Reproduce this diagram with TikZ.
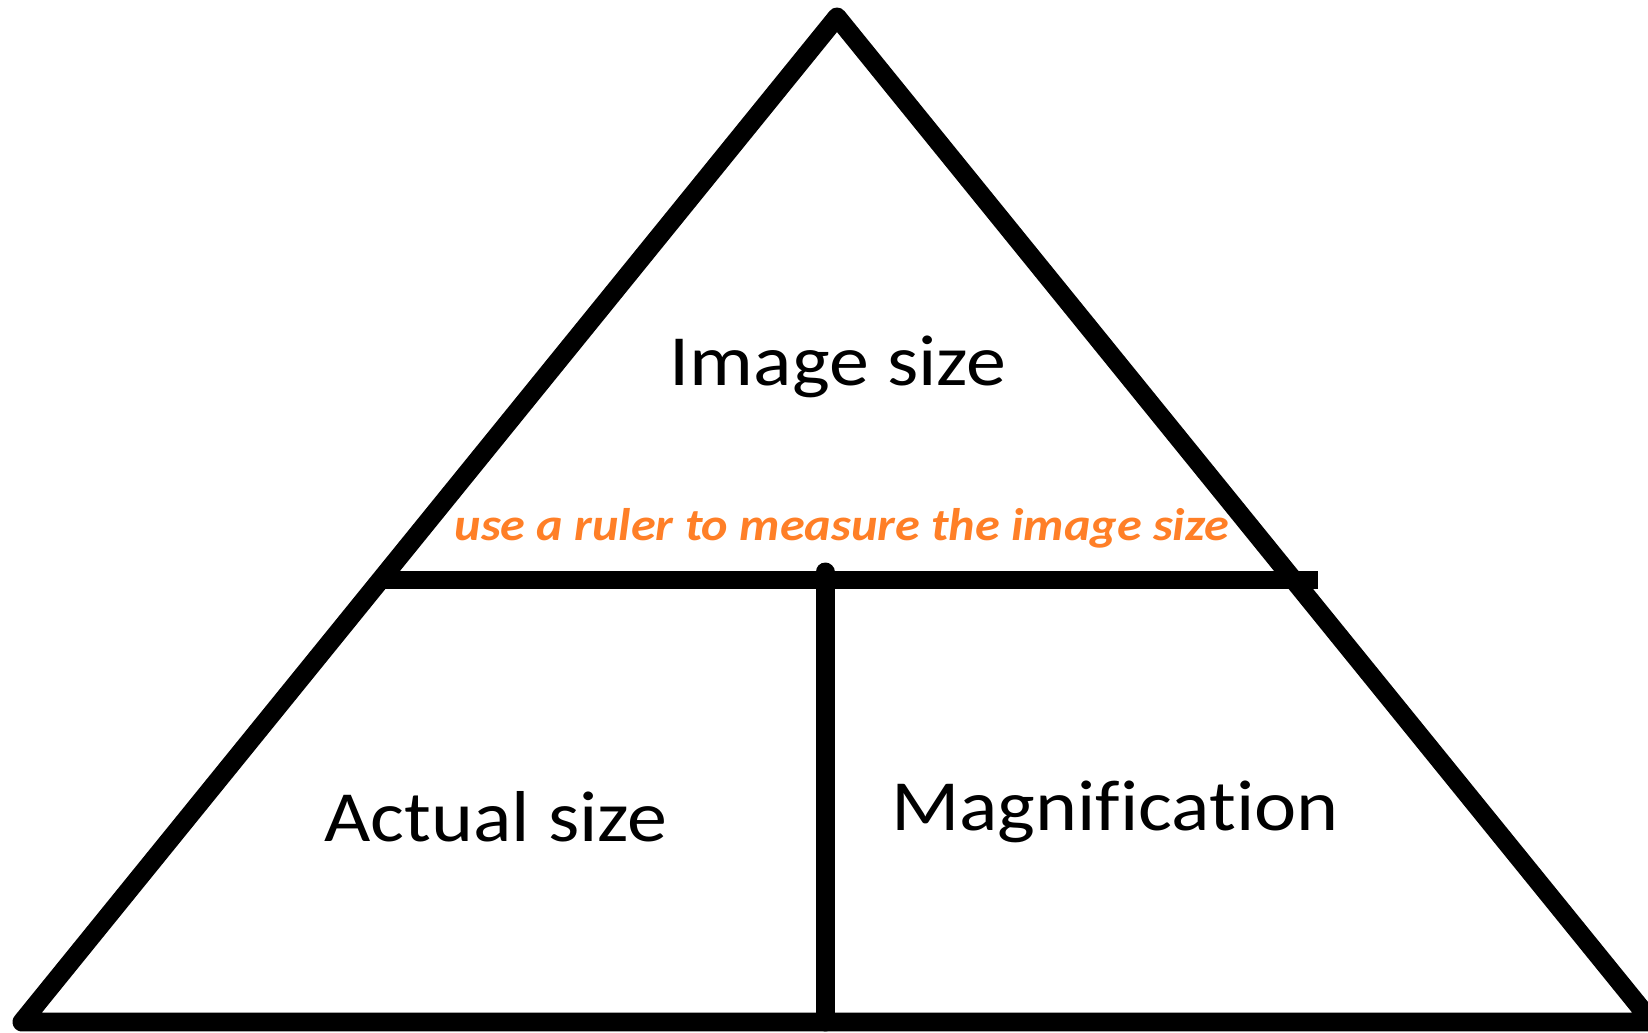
\documentclass[tikz,border=0pt]{standalone}
\usepackage{fontspec}
\setmainfont{Carlito}
\newfontfamily\boxfont[FakeStretch=1.11,Ligatures=NoCommon]{Carlito}
\newfontfamily\hintfont[FakeStretch=1.1,Ligatures=NoCommon]{Carlito}
\definecolor{rulerorange}{RGB}{255,127,39}
\tikzset{
  edge/.style={line width=10.8pt,line join=round},
  label/.style={font=\boxfont\fontsize{41}{41}\selectfont,inner sep=0pt,anchor=base},
  hint/.style={font=\hintfont\fontsize{26}{26}\selectfont\bfseries\itshape,text=rulerorange,inner sep=0pt,anchor=base}
}
\begin{document}
\begin{tikzpicture}[x=0.02cm,y=0.02cm]
  \useasboundingbox (0,0) rectangle (1648,1032);
  \coordinate (apex) at (837,1015);
  \coordinate (bl) at (22,10);
  \coordinate (br) at (1652,10);
  \coordinate (ml) at (380,452);
  \coordinate (mr) at (1318,452);
  \coordinate (mtop) at (825,460);
  \coordinate (mbot) at (825,10);

  \draw[edge] (bl) -- (apex) -- (br) -- cycle;
  \draw[edge] (ml) -- (mr);
  \draw[edge,line cap=round] (mtop) -- (mbot);

  \node[label] (image) at (838,646) {Image size};
  \node[hint] (ruler) at (842,492) {use a ruler to measure the image size};
  \node[label] (actual) at (496,191) {Actual size};
  \node[label] (magn) at (1115,202) {Magnification};
\end{tikzpicture}
\end{document}
